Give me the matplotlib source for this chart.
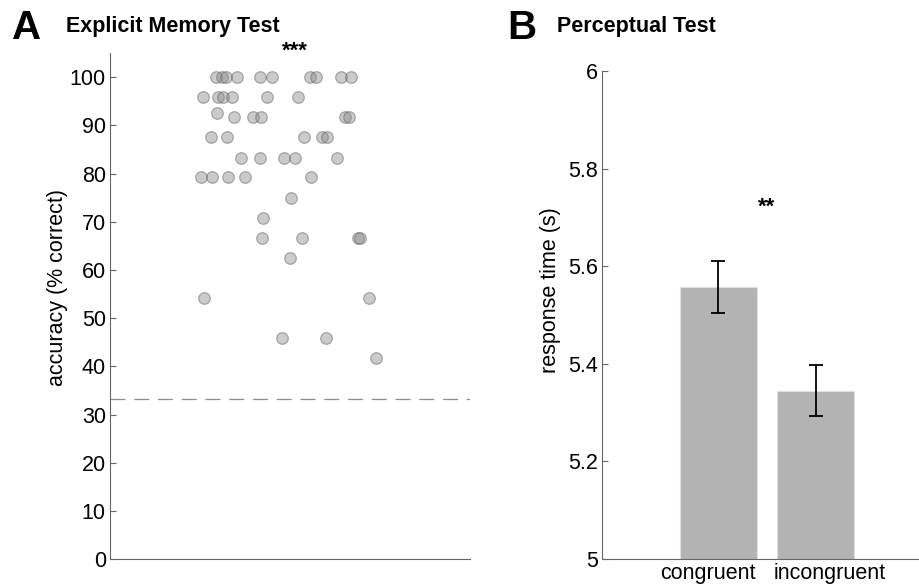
import numpy as np
import matplotlib
matplotlib.use("Agg")
import matplotlib.pyplot as plt
import matplotlib.transforms as mtransforms

plt.rcParams['font.family'] = ['Liberation Sans', 'DejaVu Sans']

# panel A: per-subject accuracy (% correct), x = jittered position
acc_x = [0.589, 0.622, 0.644, 0.706, 0.833, 0.900, 1.111, 1.144, 1.283, 1.339,
         0.517, 0.600, 0.628, 0.678, 0.872, 1.044,
         0.594,
         0.689, 0.794, 0.839, 1.306, 1.328,
         0.561, 0.650, 1.078, 1.178, 1.206,
         0.728, 0.833, 0.967, 1.028, 1.261,
         0.506, 0.567, 0.656, 0.750, 1.117,
         1.006,
         0.850,
         0.844, 1.067, 1.378, 1.389,
         1.000,
         0.522, 1.439,
         0.956, 1.200,
         1.478]
acc_y = [100]*10 + [95.8]*6 + [92.5] + [91.7]*5 + [87.5]*5 + [83.3]*5 + [79.2]*5 \
    + [75.0] + [70.8] + [66.7]*4 + [62.5] + [54.2]*2 + [45.8]*2 + [41.7]
chance = 100/3

# panel B: mean response time and SE
conds = ['congruent', 'incongruent']
rt_mean = [5.557, 5.345]
rt_se = [0.053, 0.052]

FS = 15.5

fig = plt.figure(figsize=(9.2, 5.84), dpi=100)

# ---- A
ax1 = fig.add_axes([110/920, 1-559.3/584, 360/920, (559.3-53)/584])
ax1.scatter(acc_x, acc_y, s=70, facecolor='0.55', edgecolor='0.35', linewidth=0.9, alpha=0.45, zorder=3)
ax1.axhline(chance, color='0.55', linestyle=(0, (12, 7)), linewidth=0.9)
ax1.set_xlim(0, 2)
ax1.set_ylim(0, 105)
ax1.set_yticks(np.arange(0, 101, 10))
ax1.set_xticks([])
ax1.set_ylabel('accuracy (% correct)', fontsize=FS)
ax1.yaxis.set_label_coords(-0.117, 0.536)
ax1.text(1.028, 105.4, '***', ha='center', va='center', fontsize=16, fontweight='bold', clip_on=False)

# ---- B
ax2 = fig.add_axes([602/920, 1-559/584, 330/920, (559-71)/584])
xpos = [1, 2]
ax2.bar(xpos, rt_mean, width=0.8, color='0.7', edgecolor='0.88', linewidth=0.8, zorder=2)
ax2.errorbar(xpos, rt_mean, yerr=rt_se, fmt='none', ecolor='black', elinewidth=1.3, capsize=5, capthick=1.3, zorder=3)
ax2.set_xlim(-0.2, 3.2)
ax2.set_ylim(5, 6)
ax2.set_yticks([5, 5.2, 5.4, 5.6, 5.8, 6])
ax2.set_yticklabels(['5', '5.2', '5.4', '5.6', '5.8', '6'])
ax2.set_xticks(xpos)
ax2.set_xticklabels(conds)
ax2.set_ylabel('response time (s)', fontsize=FS)
ax2.yaxis.set_label_coords(-0.124, 0.55)
ax2.text(1.5, 5.72, '**', ha='center', va='center', fontsize=16, fontweight='bold')

for ax in (ax1, ax2):
    ax.spines['top'].set_visible(False)
    ax.spines['right'].set_visible(False)
    ax.spines['left'].set_color('0.4')
    ax.spines['bottom'].set_color('0.4')
    ax.tick_params(direction='in', length=4, color='0.4', labelsize=FS, pad=3)

# labels under the bars sit a bit apart, as in the original
for lab, dx in zip(ax2.get_xticklabels(), [-0.11, 0.14]):
    lab.set_transform(lab.get_transform() + mtransforms.ScaledTranslation(dx, 0, fig.dpi_scale_trans))

fig.text(12/920, 1-39/584, 'A', fontsize=29, fontweight='bold', ha='left', va='baseline')
fig.text(66/920, 1-32/584, 'Explicit Memory Test', fontsize=15.5, fontweight='bold', ha='left', va='baseline')
fig.text(507/920, 1-39/584, 'B', fontsize=29, fontweight='bold', ha='left', va='baseline')
fig.text(557/920, 1-32/584, 'Perceptual Test', fontsize=15.5, fontweight='bold', ha='left', va='baseline')

fig.savefig('out.png', dpi=100)
